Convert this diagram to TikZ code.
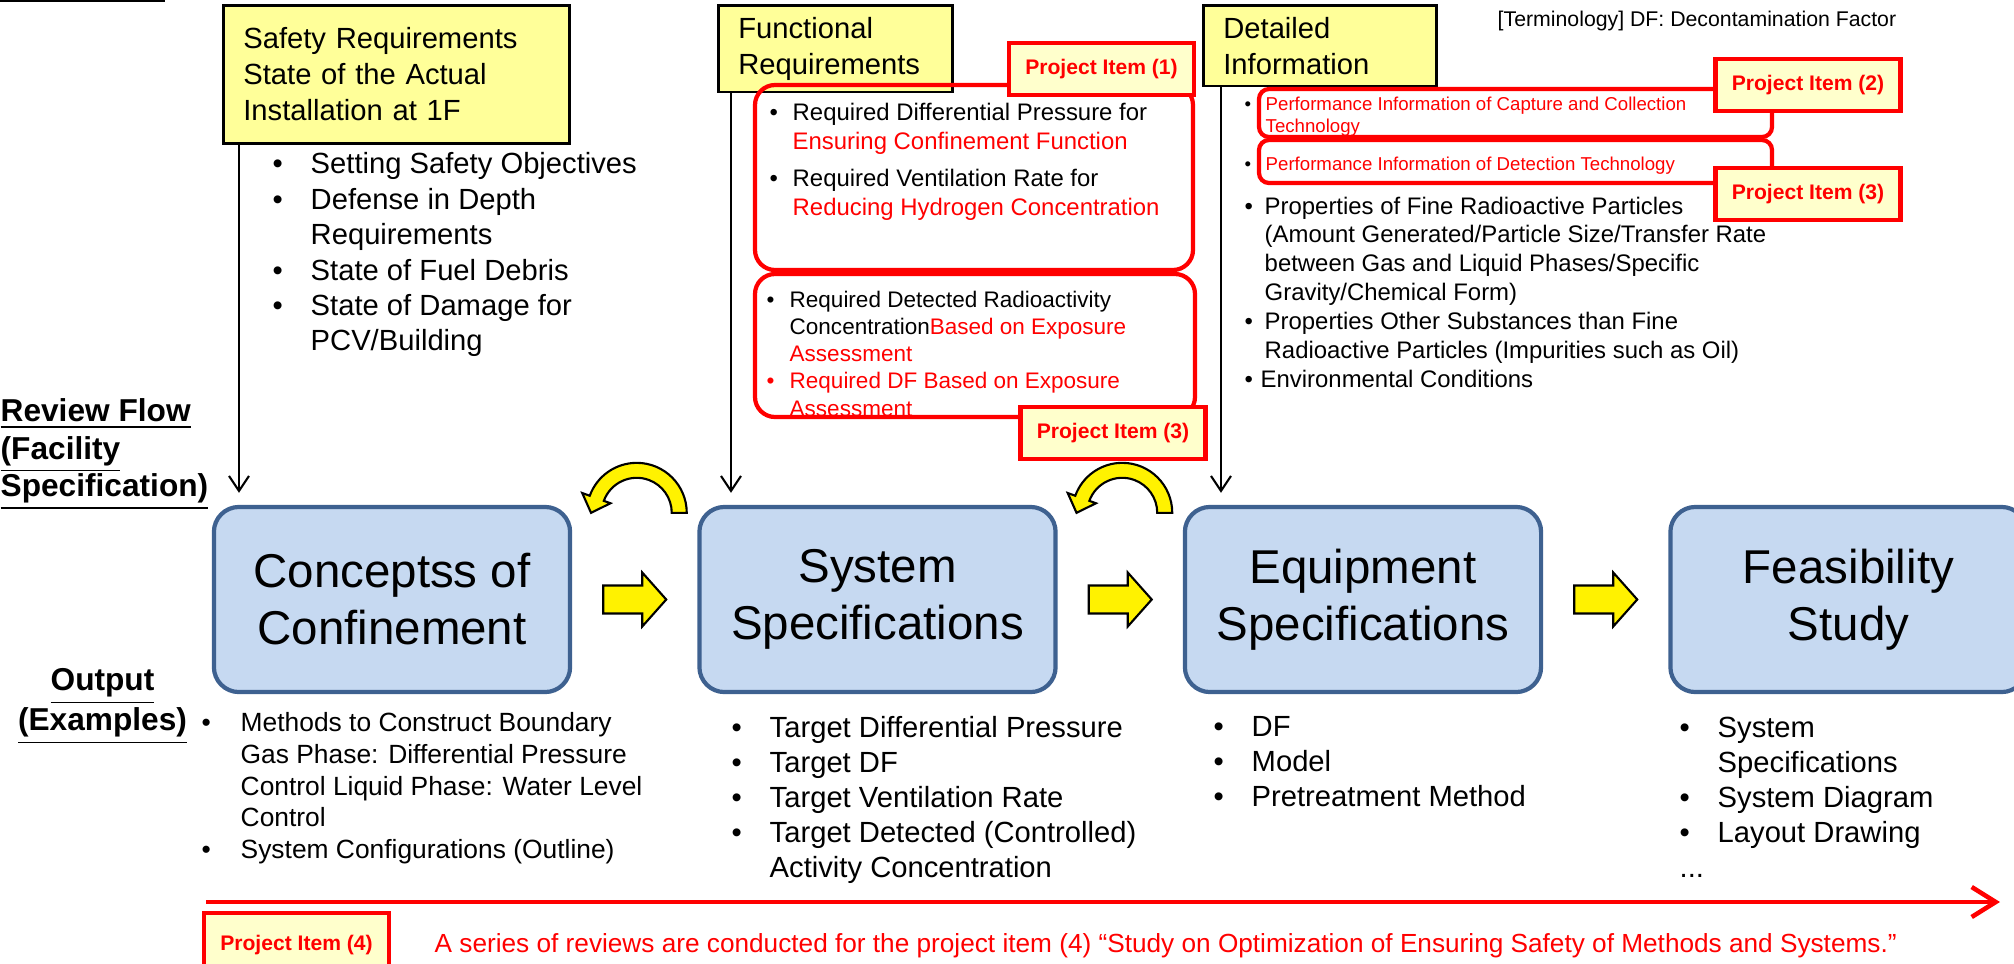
\documentclass[tikz,border=0pt]{standalone}
\usepackage{fontspec}
\setmainfont{Liberation Sans}
\usepackage{tikz}
\usetikzlibrary{calc,positioning,arrows.meta}
\tikzset{>={Straight Barb[length=1.5mm,width=2mm]}}
\definecolor{hdryellow}{HTML}{FFFF99}
\definecolor{itemyellow}{HTML}{FFFFCC}
\definecolor{stagefill}{HTML}{C6D9F1}
\definecolor{stageline}{HTML}{3E6190}
\newcommand{\bulitem}[1][0.38cm]{\makebox[#1][l]{\textbullet}}
\newcommand{\bulgap}[1][0.38cm]{\hspace*{#1}}
\tikzset{
  header/.style={draw, fill=hdryellow, line width=0.75pt, anchor=north west, align=left, inner xsep=0.2cm, font=\fontsize{8.3}{10.2}\selectfont},
  stage/.style={draw=stageline, fill=stagefill, line width=1.2pt, rounded corners=0.25cm, minimum width=3.56cm, minimum height=1.85cm, align=center, font=\fontsize{13.5}{16.2}\selectfont},
  itemlabel/.style={draw=red, fill=itemyellow, line width=1.2pt, minimum width=1.85cm, minimum height=0.52cm, inner sep=0pt, text=red, font=\bfseries\fontsize{6}{7}\selectfont},
  redframe/.style={draw=red, line width=1.2pt, rounded corners=0.2cm},
  list/.style={anchor=north west, align=left, inner sep=0pt},
  flow/.style={->, line width=0.6pt, shorten >=0.12cm},
  blockarrow/.style={draw, fill=yellow, line width=0.6pt},
  bendarrow/.style={draw, fill=yellow, line width=0.6pt},
  timeline/.style={draw=red, line width=1.3pt, -{Straight Barb[length=2.4mm,width=3mm]}}
}
\begin{document}
\begin{tikzpicture}[x=0.01cm, y=-0.01cm]
\useasboundingbox (0,0) rectangle (2014,963);
\draw[line width=0.35pt] (0,1) -- (165,1);

% what goes in
\node[header, minimum width=3.46cm, minimum height=1.38cm, text width=3.06cm] (req1) at (222,4) {Safety Requirements\\State of the Actual\\Installation at 1F};
\node[header, minimum width=2.34cm, minimum height=0.79cm, text width=1.94cm] (req2) at (717,4) {Functional\\Requirements};
\node[header, minimum width=2.33cm, minimum height=0.79cm, text width=1.93cm] (req3) at (1202,4) {Detailed\\Information};

\node[list, font=\fontsize{8.3}{10.07}\selectfont] (in1) at (272,152) {\bulitem Setting Safety Objectives\\
\bulitem Defense in Depth\\
\bulgap Requirements\\
\bulitem State of Fuel Debris\\
\bulitem State of Damage for\\
\bulgap PCV/Building};

\node[list, font=\bfseries\fontsize{9}{10.67}\selectfont] (flowlbl) at (0,398) {\underline{Review Flow}\\\underline{(Facility}\\\underline{Specification)}};
\node[anchor=north, align=center, inner sep=0pt, font=\bfseries\fontsize{9}{11.4}\selectfont] (outlbl) at (102.5,668) {\underline{Output}\\\underline{(Examples)}};

% review flow
\node[stage] (c1) at (392,599.5) {Conceptss of\\Confinement};
\node[stage, right=1.25cm of c1] (c2) {System\\Specifications};
\node[stage, right=1.25cm of c2] (c3) {Equipment\\Specifications};
\node[stage, right=1.25cm of c3] (c4) {Feasibility\\Study};

\foreach \sa/\sb in {c1/c2,c2/c3,c3/c4}
  \draw[blockarrow] ($(\sa.east)!0.5!(\sb.west)$) ++(-31.5,-14) -- ++(39,0) -- ++(0,-13) -- ++(24,27) -- ++(-24,27) -- ++(0,-13) -- ++(-39,0) -- cycle;

\foreach \sa/\sb in {c1/c2,c2/c3}{
  \begin{scope}[shift={($(\sa.north east)!0.5!(\sb.north west)+(2,8)$)}]
  \draw[bendarrow] (50,0) arc[start angle=0, end angle=-160, radius=50] -- (-54.5,-19.8) -- (-45.7,0) -- (-26.3,-9.6) -- (-32.9,-12) arc[start angle=-160, end angle=0, radius=35] -- cycle;
  \end{scope}
}

\coordinate (a1) at ($(req1.south west)+(17,0)$);
\coordinate (a2) at ($(req2.south west)+(14,0)$);
\coordinate (a3) at ($(req3.south west)+(19,0)$);
\foreach \i in {1,2,3}
  \draw[flow] (a\i) -- (a\i |- c\i.north);

% project items
\draw[redframe] (755,85) rectangle (1193,270);
\draw[redframe] (755,274) rectangle (1195,417);
\draw[redframe, rounded corners=0.1cm] (1259,89) rectangle (1772,137);
\draw[redframe, rounded corners=0.1cm] (1259,140) rectangle (1772,183);

\node[list, font=\fontsize{6.8}{8.25}\selectfont] (fr1) at (769,102) {\bulitem[0.23cm]Required Differential Pressure for\\
\bulgap[0.23cm]\textcolor{red}{Ensuring Confinement Function}\\[0.08cm]
\bulitem[0.23cm]Required Ventilation Rate for\\
\bulgap[0.23cm]\textcolor{red}{Reducing Hydrogen Concentration}};
\node[list, font=\fontsize{6.4}{7.75}\selectfont] (fr3) at (766,290) {\bulitem[0.23cm]Required Detected Radioactivity\\
\bulgap[0.23cm]Concentration\textcolor{red}{Based on Exposure}\\
\bulgap[0.23cm]\textcolor{red}{Assessment}\\
\textcolor{red}{\bulitem[0.23cm]Required DF Based on Exposure}\\
\bulgap[0.23cm]\textcolor{red}{Assessment}};

\node[list, font=\fontsize{5.3}{6.26}\selectfont] (cap) at (1244,96) {\bulitem[0.21cm]\textcolor{red}{Performance Information of Capture and Collection}\\
\bulgap[0.21cm]\textcolor{red}{Technology}};
\node[list, font=\fontsize{5.3}{6.26}\selectfont] (det) at (1244,156) {\bulitem[0.21cm]\textcolor{red}{Performance Information of Detection Technology}};
\node[list, font=\fontsize{6.8}{8.2}\selectfont] (props) at (1244,196) {\bulitem[0.2cm]Properties of Fine Radioactive Particles\\
\bulgap[0.2cm](Amount Generated/Particle Size/Transfer Rate\\
\bulgap[0.2cm]between Gas and Liquid Phases/Specific\\
\bulgap[0.2cm]Gravity/Chemical Form)\\
\bulitem[0.2cm]Properties Other Substances than Fine\\
\bulgap[0.2cm]Radioactive Particles (Impurities such as Oil)\\
\bulitem[0.16cm]Environmental Conditions};
\node[list, font=\fontsize{6.05}{7}\selectfont] (terms) at (1497,10) {[Terminology] DF: Decontamination Factor};

\node[itemlabel] (pi1) at (1101.5,69) {Project Item (1)};
\node[itemlabel] (pi3a) at (1113,433) {Project Item (3)};
\node[itemlabel] (pi2) at (1808,85) {Project Item (2)};
\node[itemlabel] (pi3b) at (1808,194) {Project Item (3)};

% outputs
\node[list, font=\fontsize{7.5}{9}\selectfont] (out1) at (201,712) {\bulitem[0.39cm]Methods to Construct Boundary\\
\bulgap[0.39cm]Gas Phase: Differential Pressure\\
\bulgap[0.39cm]Control Liquid Phase: Water Level\\
\bulgap[0.39cm]Control\\
\bulitem[0.39cm]System Configurations (Outline)};
\node[list, font=\fontsize{8.3}{9.96}\selectfont] (out2) at (731,716) {\bulitem Target Differential Pressure\\
\bulitem Target DF\\
\bulitem Target Ventilation Rate\\
\bulitem Target Detected (Controlled)\\
\bulgap Activity Concentration};
\node[list, font=\fontsize{8.3}{9.96}\selectfont] (out3) at (1213,716) {\bulitem DF\\
\bulitem Model\\
\bulitem Pretreatment Method};
\node[list, font=\fontsize{8.3}{9.96}\selectfont] (out4) at (1679,716) {\bulitem System\\
\bulgap Specifications\\
\bulitem System Diagram\\
\bulitem Layout Drawing\\
...};

% project item (4)
\coordinate (tstart) at (206,902);
\coordinate (tend) at (2000,902);
\draw[timeline] (tstart) -- (tend);
\node[itemlabel, minimum height=0.64cm] (pi4) at (296.5,945) {Project Item (4)};
\node[anchor=base west, inner sep=0pt, text=red, font=\fontsize{7.45}{9}\selectfont] (note) at (434,952) {A series of reviews are conducted for the project item (4) “Study on Optimization of Ensuring Safety of Methods and Systems.”};
\end{tikzpicture}
\end{document}
